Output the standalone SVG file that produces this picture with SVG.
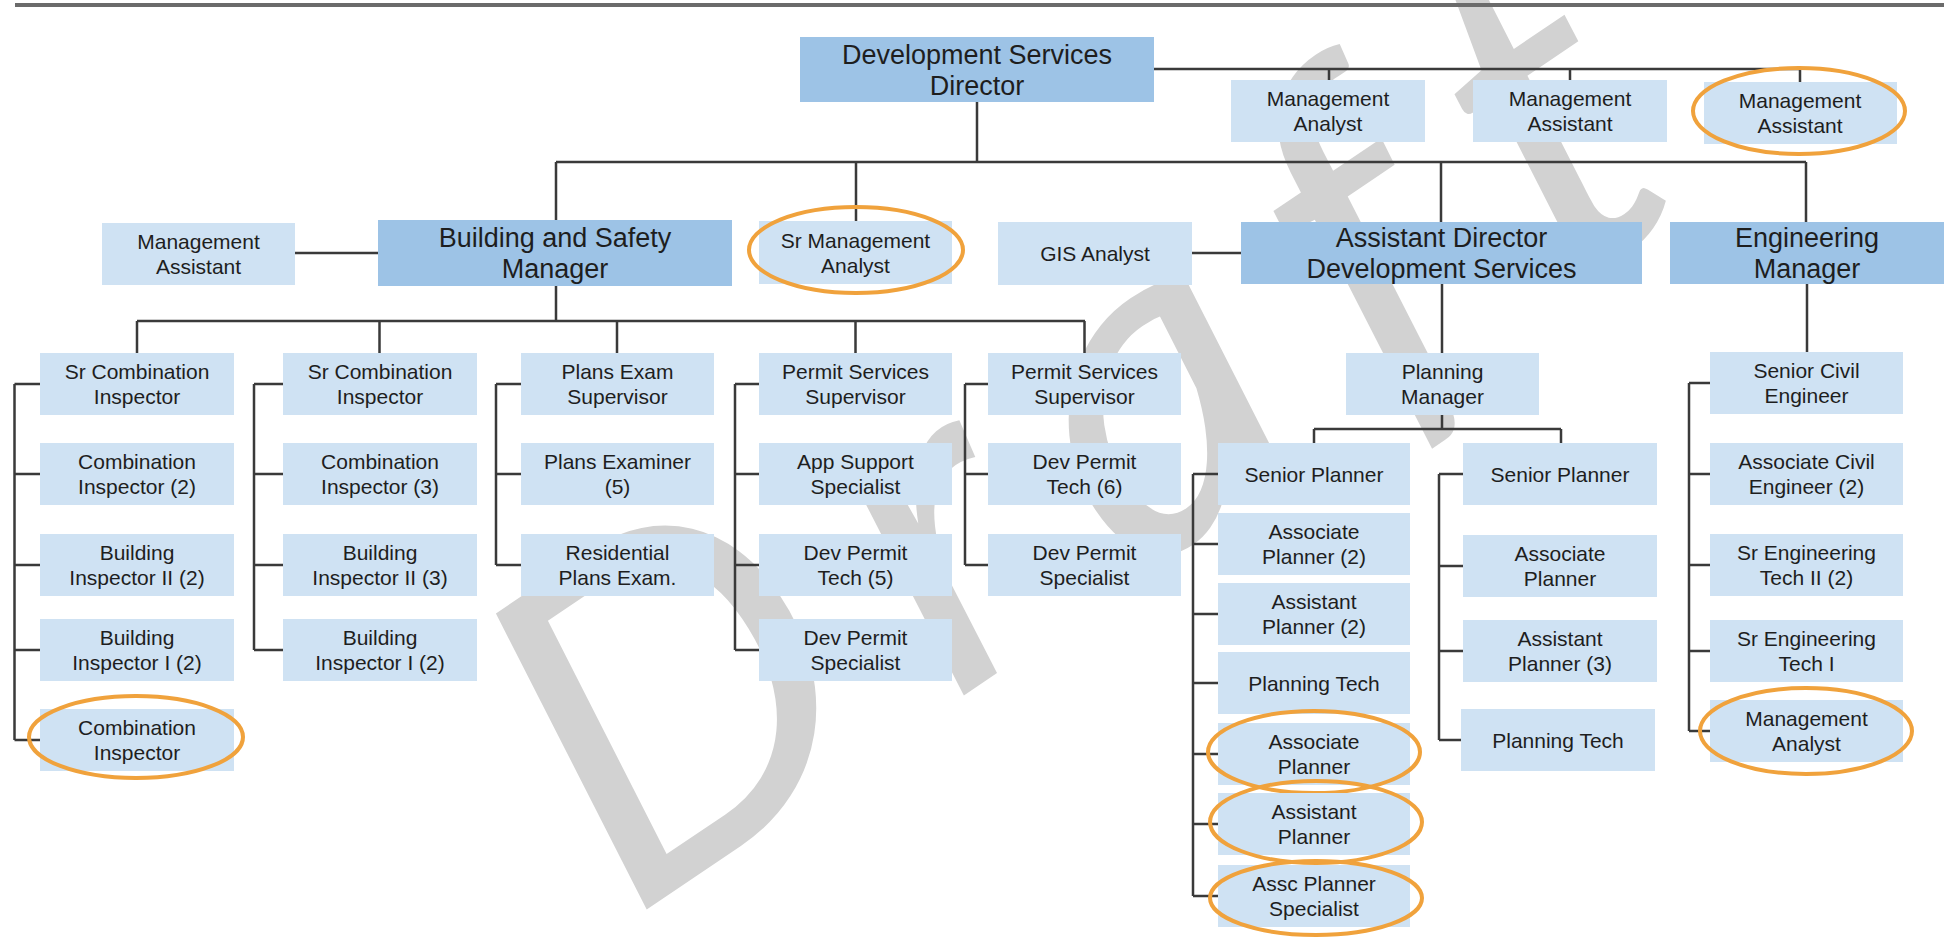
<svg xmlns="http://www.w3.org/2000/svg" width="1944" height="937" viewBox="0 0 1944 937">
<style>
.lt{fill:#cfe2f3}
.dk{fill:#9dc3e6}
text{font-family:"Liberation Sans",Arial,sans-serif;fill:#1e1e1e;text-anchor:middle}
.s{font-size:21px}
.L{font-size:27px}
.c{stroke:#3a3a3a;stroke-width:2.5;fill:none}
.o{fill:none;stroke:#f0a23c;stroke-width:4}
.wm{font-family:Lato,Inter,"Noto Sans",sans-serif;font-weight:400;font-style:italic;fill:#d2d2d2;font-size:460px;letter-spacing:70px;text-anchor:start}
</style>
<rect width="1944" height="937" fill="#ffffff"/>
<text class="wm" transform="translate(628 922) rotate(-34)" x="0" y="0">Draft</text>
<line x1="15" y1="5" x2="1944" y2="5" stroke="#6b6b6b" stroke-width="4"/>
<g id="connectors" class="c">
<path d="M1154 69H1800M1329 69V80M1570 69V80M1800 69V82"/>
<path d="M977 102V162M556 162H1806M556 162V220M856 162V221M1441 162V222M1806 162V222"/>
<path d="M295 253H378M1192 253H1241"/>
<path d="M556 286V321M137 321H1085M137 321V353M379.5 321V353M617 321V353M855.5 321V353M1084.5 321V353"/>
<path d="M14.5 384V740M14.5 384H40M14.5 474H40M14.5 565H40M14.5 650H40M14.5 740H40"/>
<path d="M254 384V650M254 384H283M254 474H283M254 565H283M254 650H283"/>
<path d="M496 384V565M496 384H521M496 474H521M496 565H521"/>
<path d="M735 384V650M735 384H759M735 474H759M735 565H759M735 650H759"/>
<path d="M965 384V565M965 384H988M965 474H988M965 565H988"/>
<path d="M1442 284V353M1442 415V429M1314 429H1561M1314 429V443M1561 429V443"/>
<path d="M1193 474V896M1193 474H1218M1193 544H1218M1193 614H1218M1193 683H1218M1193 754H1218M1193 824H1218M1193 896H1218"/>
<path d="M1439 474V740M1439 474H1463M1439 566H1463M1439 651H1463M1439 740H1463"/>
<path d="M1807 284V352M1689 383V731M1689 383H1710M1689 474H1710M1689 565H1710M1689 651H1710M1689 731H1710"/>
</g>
<g id="director"><rect class="dk" x="800" y="37" width="354" height="65"/><text class="L" x="977" y="63.5">Development Services</text><text class="L" x="977" y="94.5">Director</text></g>
<g id="mgmt-analyst-top"><rect class="lt" x="1231" y="80" width="194" height="62"/><text class="s" x="1328" y="106">Management</text><text class="s" x="1328" y="131">Analyst</text></g>
<g id="mgmt-assistant-top"><rect class="lt" x="1473" y="80" width="194" height="62"/><text class="s" x="1570" y="106">Management</text><text class="s" x="1570" y="131">Assistant</text></g>
<g id="mgmt-assistant-top2"><rect class="lt" x="1704" y="82" width="193" height="62"/><text class="s" x="1800" y="108">Management</text><text class="s" x="1800" y="133">Assistant</text><ellipse class="o" cx="1799" cy="111" rx="106" ry="43"/></g>
<g id="mgmt-assistant-bs"><rect class="lt" x="102" y="223" width="193" height="62"/><text class="s" x="198.5" y="249">Management</text><text class="s" x="198.5" y="274">Assistant</text></g>
<g id="bs-manager"><rect class="dk" x="378" y="220" width="354" height="66"/><text class="L" x="555" y="247">Building and Safety</text><text class="L" x="555" y="278">Manager</text></g>
<g id="sr-mgmt-analyst"><rect class="lt" x="759" y="221" width="193" height="63"/><text class="s" x="855.5" y="247.5">Sr Management</text><text class="s" x="855.5" y="272.5">Analyst</text><ellipse class="o" cx="856" cy="250" rx="107" ry="43"/></g>
<g id="gis-analyst"><rect class="lt" x="998" y="222" width="194" height="63"/><text class="s" x="1095" y="261">GIS Analyst</text></g>
<g id="asst-director"><rect class="dk" x="1241" y="222" width="401" height="62"/><text class="L" x="1441.5" y="247">Assistant Director</text><text class="L" x="1441.5" y="278">Development Services</text></g>
<g id="eng-manager"><rect class="dk" x="1670" y="222" width="274" height="62"/><text class="L" x="1807" y="247">Engineering</text><text class="L" x="1807" y="278">Manager</text></g>
<g id="c1-sr-comb"><rect class="lt" x="40" y="353" width="194" height="62"/><text class="s" x="137" y="379">Sr Combination</text><text class="s" x="137" y="404">Inspector</text></g>
<g id="c1-comb2"><rect class="lt" x="40" y="443" width="194" height="62"/><text class="s" x="137" y="469">Combination</text><text class="s" x="137" y="494">Inspector (2)</text></g>
<g id="c1-bi2"><rect class="lt" x="40" y="534" width="194" height="62"/><text class="s" x="137" y="560">Building</text><text class="s" x="137" y="585">Inspector II (2)</text></g>
<g id="c1-bi1"><rect class="lt" x="40" y="619" width="194" height="62"/><text class="s" x="137" y="645">Building</text><text class="s" x="137" y="670">Inspector I (2)</text></g>
<g id="c1-comb"><rect class="lt" x="40" y="709" width="194" height="62"/><text class="s" x="137" y="735">Combination</text><text class="s" x="137" y="760">Inspector</text><ellipse class="o" cx="136" cy="737" rx="107" ry="41"/></g>
<g id="c2-sr-comb"><rect class="lt" x="283" y="353" width="194" height="62"/><text class="s" x="380" y="379">Sr Combination</text><text class="s" x="380" y="404">Inspector</text></g>
<g id="c2-comb3"><rect class="lt" x="283" y="443" width="194" height="62"/><text class="s" x="380" y="469">Combination</text><text class="s" x="380" y="494">Inspector (3)</text></g>
<g id="c2-bi2"><rect class="lt" x="283" y="534" width="194" height="62"/><text class="s" x="380" y="560">Building</text><text class="s" x="380" y="585">Inspector II (3)</text></g>
<g id="c2-bi1"><rect class="lt" x="283" y="619" width="194" height="62"/><text class="s" x="380" y="645">Building</text><text class="s" x="380" y="670">Inspector I (2)</text></g>
<g id="c3-pes"><rect class="lt" x="521" y="353" width="193" height="62"/><text class="s" x="617.5" y="379">Plans Exam</text><text class="s" x="617.5" y="404">Supervisor</text></g>
<g id="c3-pe"><rect class="lt" x="521" y="443" width="193" height="62"/><text class="s" x="617.5" y="469">Plans Examiner</text><text class="s" x="617.5" y="494">(5)</text></g>
<g id="c3-rpe"><rect class="lt" x="521" y="534" width="193" height="62"/><text class="s" x="617.5" y="560">Residential</text><text class="s" x="617.5" y="585">Plans Exam.</text></g>
<g id="c4-pss"><rect class="lt" x="759" y="353" width="193" height="62"/><text class="s" x="855.5" y="379">Permit Services</text><text class="s" x="855.5" y="404">Supervisor</text></g>
<g id="c4-ass"><rect class="lt" x="759" y="443" width="193" height="62"/><text class="s" x="855.5" y="469">App Support</text><text class="s" x="855.5" y="494">Specialist</text></g>
<g id="c4-dpt"><rect class="lt" x="759" y="534" width="193" height="62"/><text class="s" x="855.5" y="560">Dev Permit</text><text class="s" x="855.5" y="585">Tech (5)</text></g>
<g id="c4-dps"><rect class="lt" x="759" y="619" width="193" height="62"/><text class="s" x="855.5" y="645">Dev Permit</text><text class="s" x="855.5" y="670">Specialist</text></g>
<g id="c5-pss"><rect class="lt" x="988" y="353" width="193" height="62"/><text class="s" x="1084.5" y="379">Permit Services</text><text class="s" x="1084.5" y="404">Supervisor</text></g>
<g id="c5-dpt"><rect class="lt" x="988" y="443" width="193" height="62"/><text class="s" x="1084.5" y="469">Dev Permit</text><text class="s" x="1084.5" y="494">Tech (6)</text></g>
<g id="c5-dps"><rect class="lt" x="988" y="534" width="193" height="62"/><text class="s" x="1084.5" y="560">Dev Permit</text><text class="s" x="1084.5" y="585">Specialist</text></g>
<g id="planning-manager"><rect class="lt" x="1346" y="353" width="193" height="62"/><text class="s" x="1442.5" y="379">Planning</text><text class="s" x="1442.5" y="404">Manager</text></g>
<g id="p1-sp"><rect class="lt" x="1218" y="443" width="192" height="62"/><text class="s" x="1314" y="481.5">Senior Planner</text></g>
<g id="p1-ap2"><rect class="lt" x="1218" y="513" width="192" height="62"/><text class="s" x="1314" y="539">Associate</text><text class="s" x="1314" y="564">Planner (2)</text></g>
<g id="p1-asp2"><rect class="lt" x="1218" y="583" width="192" height="62"/><text class="s" x="1314" y="609">Assistant</text><text class="s" x="1314" y="634">Planner (2)</text></g>
<g id="p1-pt"><rect class="lt" x="1218" y="652" width="192" height="62"/><text class="s" x="1314" y="690.5">Planning Tech</text></g>
<g id="p1-ap"><rect class="lt" x="1218" y="723" width="192" height="62"/><text class="s" x="1314" y="749">Associate</text><text class="s" x="1314" y="774">Planner</text><ellipse class="o" cx="1314" cy="752" rx="106" ry="41"/></g>
<g id="p1-asp"><rect class="lt" x="1218" y="793" width="192" height="62"/><text class="s" x="1314" y="819">Assistant</text><text class="s" x="1314" y="844">Planner</text><ellipse class="o" cx="1316" cy="822" rx="106" ry="41"/></g>
<g id="p1-aps"><rect class="lt" x="1218" y="865" width="192" height="62"/><text class="s" x="1314" y="891">Assc Planner</text><text class="s" x="1314" y="916">Specialist</text><ellipse class="o" cx="1316" cy="898" rx="106" ry="37"/></g>
<g id="p2-sp"><rect class="lt" x="1463" y="443" width="194" height="62"/><text class="s" x="1560" y="481.5">Senior Planner</text></g>
<g id="p2-ap"><rect class="lt" x="1463" y="535" width="194" height="62"/><text class="s" x="1560" y="561">Associate</text><text class="s" x="1560" y="586">Planner</text></g>
<g id="p2-asp3"><rect class="lt" x="1463" y="620" width="194" height="62"/><text class="s" x="1560" y="646">Assistant</text><text class="s" x="1560" y="671">Planner (3)</text></g>
<g id="p2-pt"><rect class="lt" x="1461" y="709" width="194" height="62"/><text class="s" x="1558" y="747.5">Planning Tech</text></g>
<g id="e-sce"><rect class="lt" x="1710" y="352" width="193" height="62"/><text class="s" x="1806.5" y="378">Senior Civil</text><text class="s" x="1806.5" y="403">Engineer</text></g>
<g id="e-ace"><rect class="lt" x="1710" y="443" width="193" height="62"/><text class="s" x="1806.5" y="469">Associate Civil</text><text class="s" x="1806.5" y="494">Engineer (2)</text></g>
<g id="e-set2"><rect class="lt" x="1710" y="534" width="193" height="62"/><text class="s" x="1806.5" y="560">Sr Engineering</text><text class="s" x="1806.5" y="585">Tech II (2)</text></g>
<g id="e-set1"><rect class="lt" x="1710" y="620" width="193" height="62"/><text class="s" x="1806.5" y="646">Sr Engineering</text><text class="s" x="1806.5" y="671">Tech I</text></g>
<g id="e-ma"><rect class="lt" x="1710" y="700" width="193" height="62"/><text class="s" x="1806.5" y="726">Management</text><text class="s" x="1806.5" y="751">Analyst</text><ellipse class="o" cx="1806" cy="731" rx="106" ry="43"/></g>
</svg>
